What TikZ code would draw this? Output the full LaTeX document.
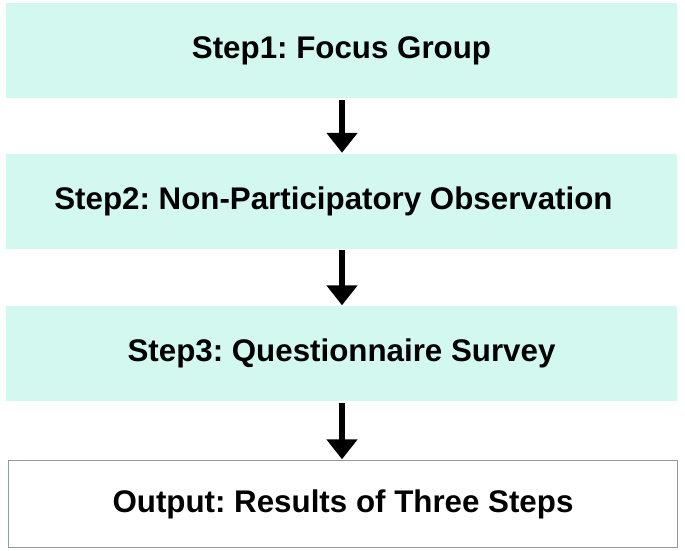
\documentclass[tikz,border=0pt]{standalone}
\usepackage{fontspec}
\setmainfont{Liberation Sans}
\usetikzlibrary{arrows.meta}
\definecolor{boxfill}{HTML}{D3F8F0}
\definecolor{boxline}{HTML}{8E9C9C}
\frenchspacing
\begin{document}
\begin{tikzpicture}[x=1pt,y=-1pt,
  stepbox/.style={fill=boxfill,draw=none,minimum width=671pt,minimum height=95pt,inner sep=0pt,
    text height=22.5pt,text depth=6pt,
    font=\fontsize{31.3}{36}\selectfont\bfseries},
  outbox/.style={fill=white,draw=boxline,line width=1.4pt,minimum width=669pt,minimum height=87pt,inner sep=0pt,
    text height=22.5pt,text depth=6pt,
    font=\fontsize{31.3}{36}\selectfont\bfseries},
  flowarrow/.style={line width=5.5pt,-{Triangle[width=30pt,length=20pt]},shorten <=1.5pt,shorten >=0.5pt}]
\useasboundingbox (0,0) rectangle (685,551);
\node[stepbox] (s1) at (341.5,50.5) {Step1: Focus Group};
\node[stepbox] (s2) at (341.5,201) {Step2: Non-Participatory Observation\hspace*{16pt}};
\node[stepbox] (s3) at (341.5,353.5) {Step3: Questionnaire Survey};
\node[outbox] (out) at (343,504) {Output: Results of Three Steps};
\draw[flowarrow] ([xshift=0.5pt]s1.south) -- ([xshift=0.5pt]s2.north);
\draw[flowarrow] ([xshift=0.5pt]s2.south) -- ([xshift=0.5pt]s3.north);
\draw[flowarrow] ([xshift=0.5pt]s3.south) -- ([xshift=-1pt]out.north);
\end{tikzpicture}
\end{document}
